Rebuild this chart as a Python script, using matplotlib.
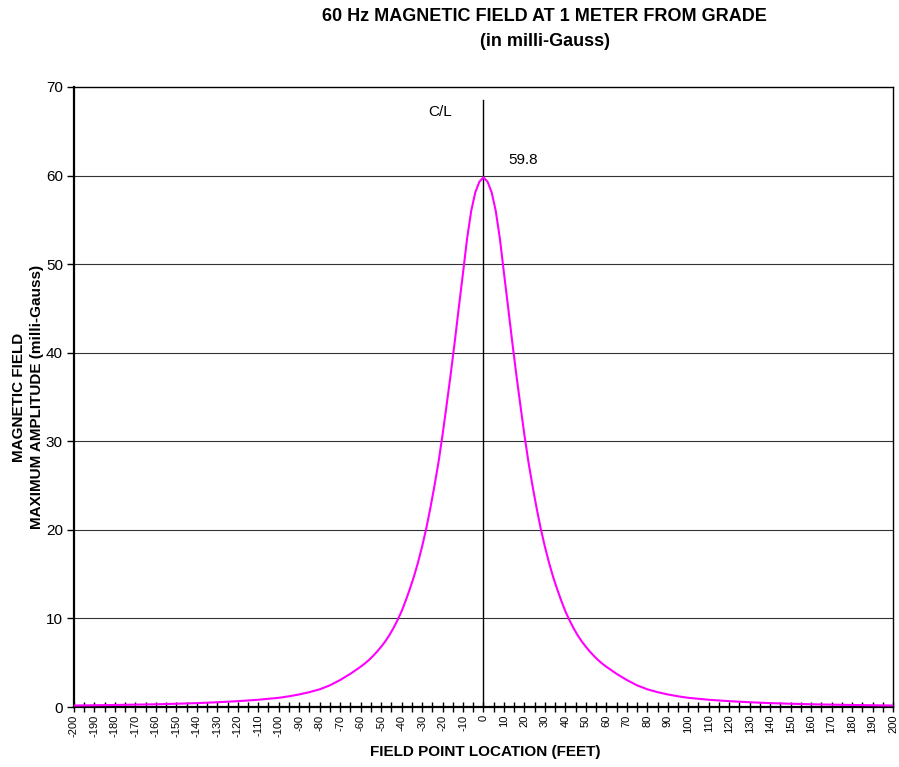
import matplotlib.pyplot as plt
import numpy as np

plt.rcParams['font.family'] = ['Liberation Sans', 'DejaVu Sans']

# field point location (feet) and field (milli-Gauss)
dist_right = [0, 2, 4, 6, 8, 10, 12, 14, 16, 18, 20, 22, 24, 26, 28, 30,
              32, 34, 36, 38, 40, 42, 44, 46, 48, 50, 52, 54, 56, 58, 60,
              65, 70, 75, 80, 85, 90, 95, 100, 110, 120, 130, 140,
              150, 160, 170, 180, 190, 200]
field_right = [59.8, 59.3, 58.1, 56.0, 52.9, 49.0, 45.2, 41.3, 37.6, 34.1,
               30.7, 27.6, 24.9, 22.4, 20.1, 18.1, 16.3, 14.7, 13.3, 12.0,
               10.8, 9.8, 8.9, 8.1, 7.4, 6.8, 6.25, 5.75, 5.3, 4.9, 4.55,
               3.75, 3.05, 2.45, 2.0, 1.68, 1.42, 1.21, 1.04, 0.82, 0.66,
               0.54, 0.44, 0.37, 0.31, 0.27, 0.23, 0.2, 0.17]

x = [-d for d in dist_right[:0:-1]] + dist_right
y = field_right[:0:-1] + field_right

peak_value = 59.8
x_ticks = list(range(-200, 201, 10))

fig = plt.figure(figsize=(8.99, 7.67), dpi=100)
ax = fig.add_axes([0.0823, 0.0782, 0.9933 - 0.0823, 0.8866 - 0.0782])

ax.plot(x, y, color='#FF00FF', lw=1.5, zorder=3, solid_joinstyle='round')

# centre line
ax.plot([0, 0], [0, 68.5], color='black', lw=1.0, zorder=2)
ax.text(-21, 67.2, 'C/L', ha='center', va='center', fontsize=11)
ax.text(19.5, 61.8, '%.1f' % peak_value, ha='center', va='center', fontsize=11)

ax.set_xlim(-200, 200)
ax.set_ylim(0, 70)
ax.set_xticks(x_ticks)
ax.set_xticklabels([str(t) for t in x_ticks], rotation=90, fontsize=8)
ax.set_xticks(range(-195, 200, 10), minor=True)
ax.set_yticks(range(0, 71, 10))
ax.tick_params(axis='y', labelsize=11, length=5, width=1, direction='out', pad=3)
ax.tick_params(axis='x', which='both', length=7, width=1, direction='inout', pad=2)

for v in range(10, 70, 10):
    ax.axhline(v, color='#333333', lw=0.8, zorder=1)

for s in ['left', 'bottom']:
    ax.spines[s].set_linewidth(1.6)
for s in ['top', 'right']:
    ax.spines[s].set_linewidth(1.0)

fig.text(0.606, 0.978, '60 Hz MAGNETIC FIELD AT 1 METER FROM GRADE',
         ha='center', va='center', fontsize=13, fontweight='bold')
fig.text(0.606, 0.946, '(in milli-Gauss)', ha='center', va='center',
         fontsize=13, fontweight='bold')

fig.text(0.540, 0.020, 'FIELD POINT LOCATION (FEET)', ha='center', va='center',
         fontsize=11, fontweight='bold')
fig.text(0.031, 0.482, 'MAGNETIC FIELD\nMAXIMUM AMPLITUDE (milli-Gauss)',
         ha='center', va='center', rotation=90, fontsize=11,
         fontweight='bold', linespacing=1.4)

fig.savefig('out.png', dpi=100)
